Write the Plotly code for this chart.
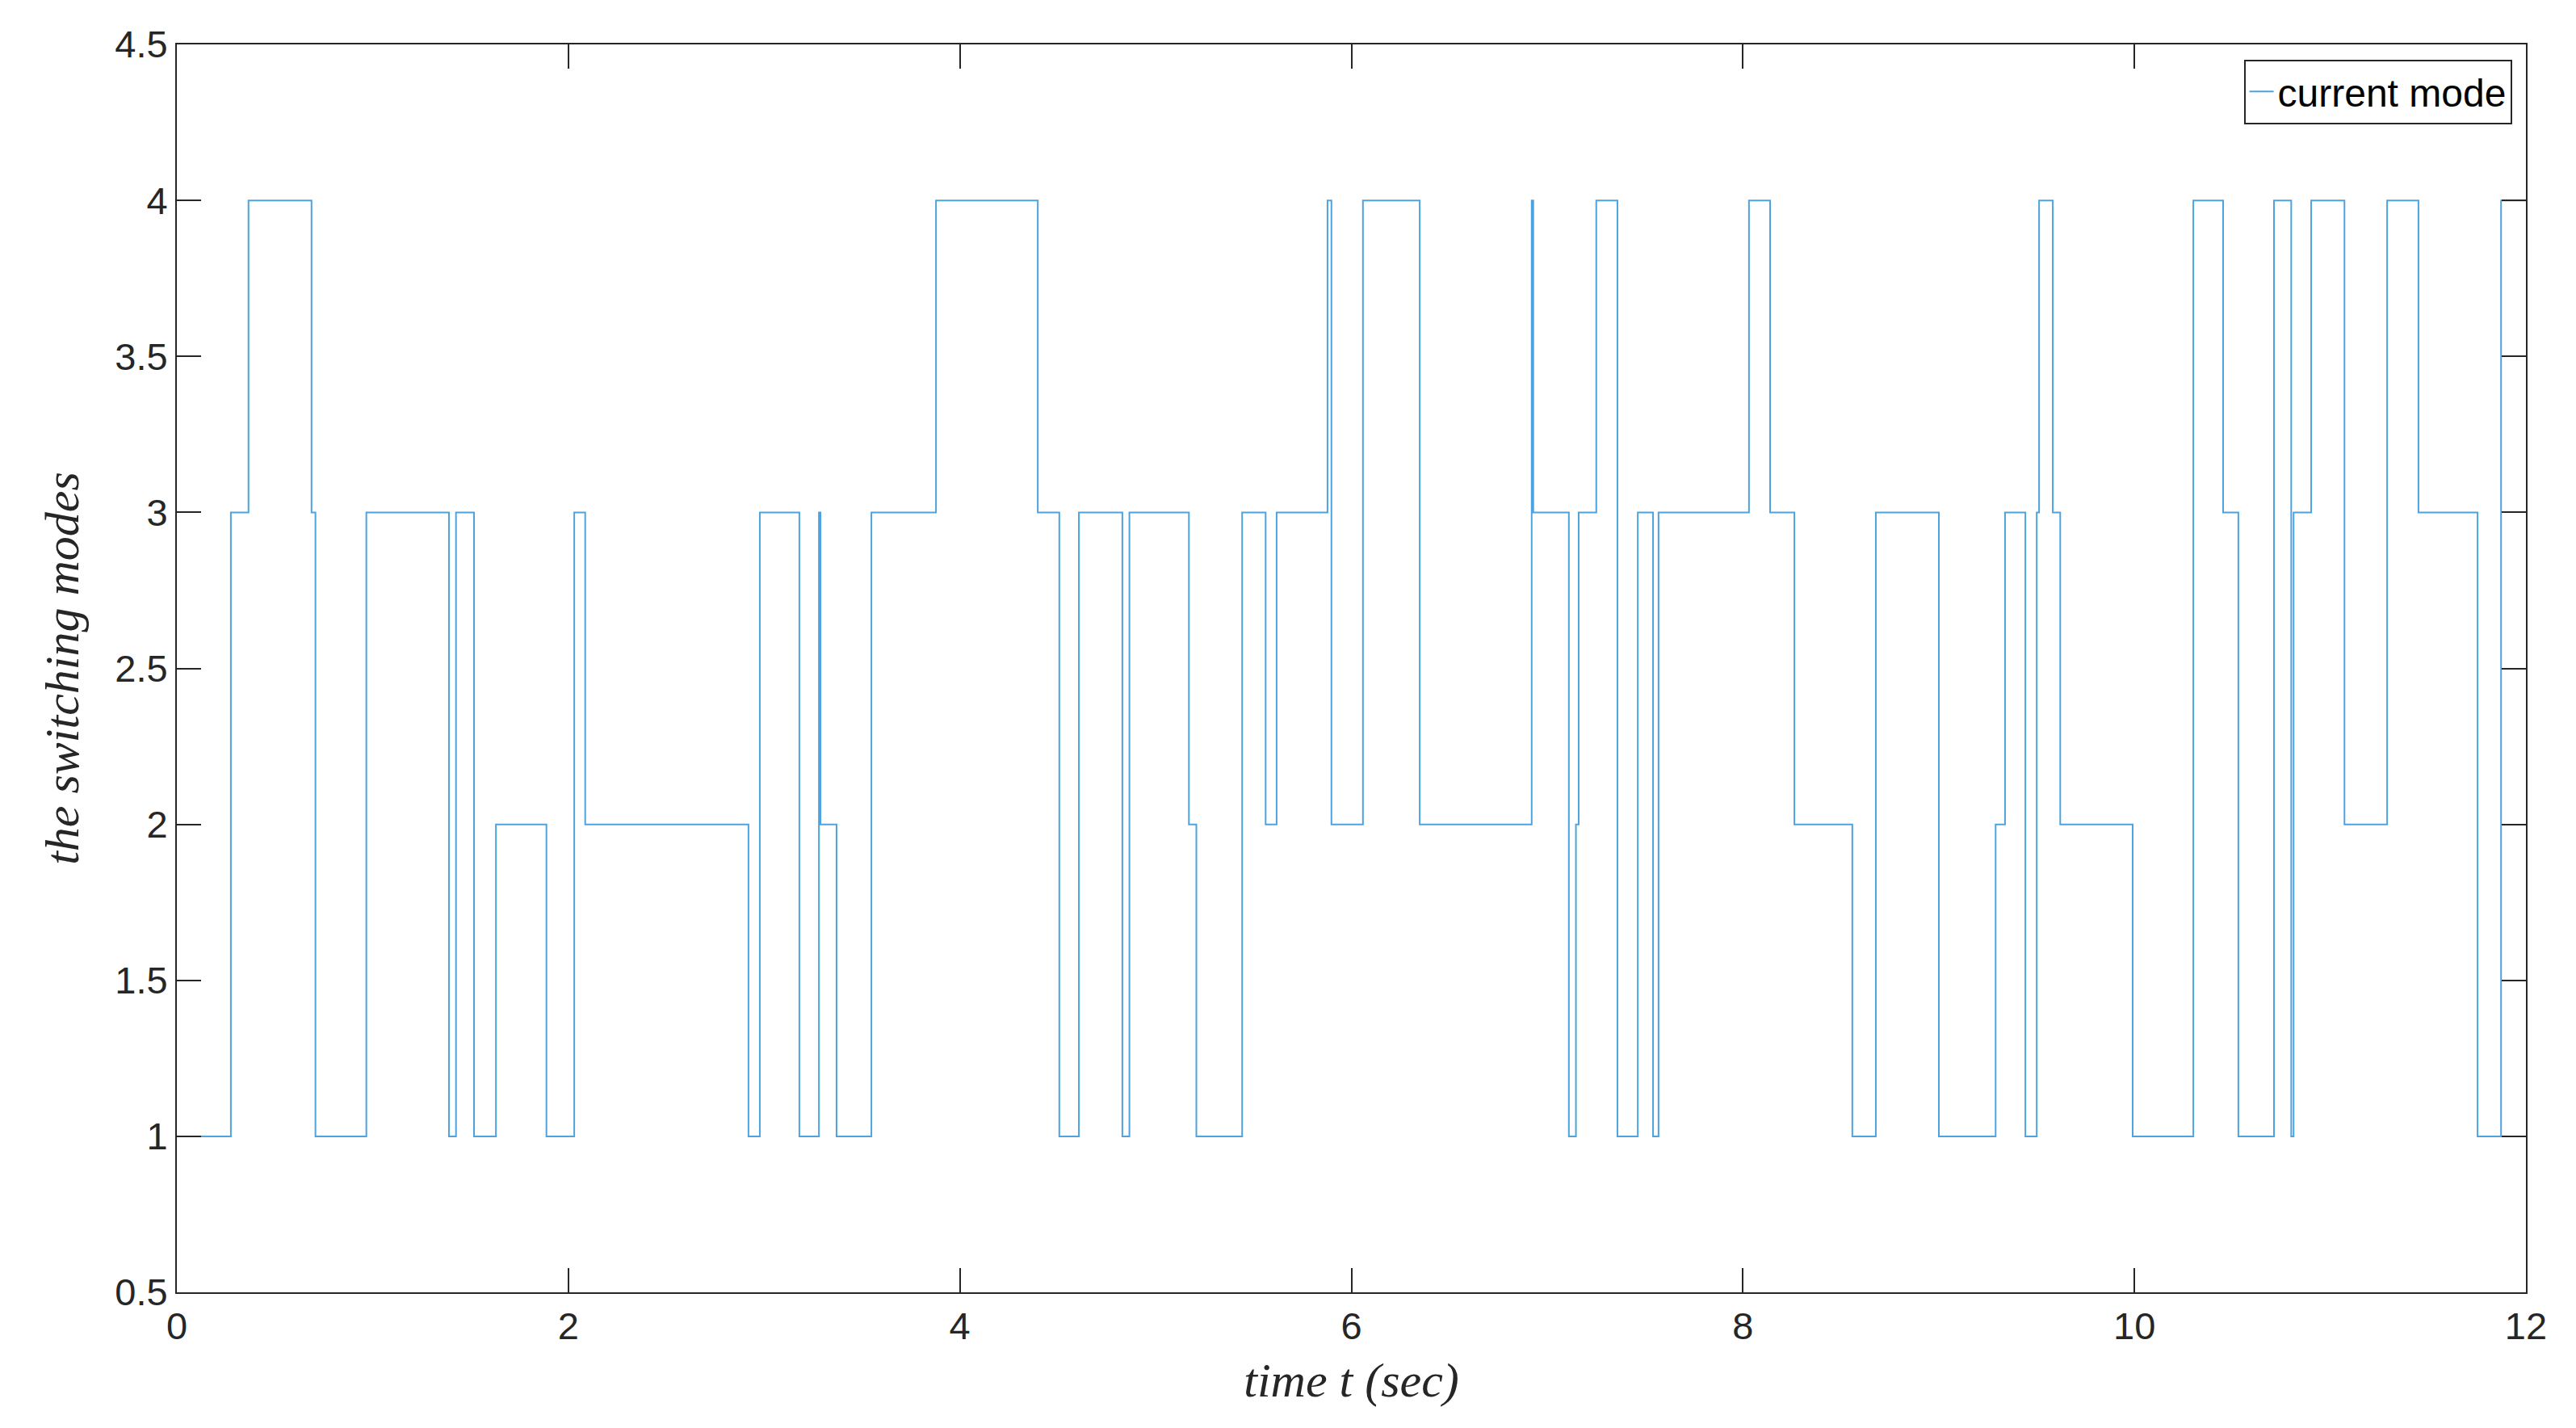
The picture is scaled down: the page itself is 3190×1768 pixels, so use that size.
import plotly.graph_objects as go

switch_times = [0, 0.276, 0.366, 0.688, 0.708, 0.968, 1.39, 1.426, 1.518, 1.63, 1.888, 2.03, 2.086,
                2.92, 2.978, 3.18, 3.28, 3.288, 3.37, 3.548, 3.878, 4.398, 4.508, 4.608, 4.83, 4.866,
                5.17, 5.208, 5.442, 5.562, 5.618, 5.878, 5.898, 6.059, 6.349, 6.921, 6.929, 7.111,
                7.147, 7.161, 7.251, 7.359, 7.463, 7.541, 7.569, 8.031, 8.139, 8.263, 8.559, 8.679,
                9.001, 9.291, 9.339, 9.443, 9.501, 9.513, 9.583, 9.621, 9.991, 10.301, 10.453,
                10.531, 10.713, 10.801, 10.813, 10.903, 11.073, 11.291, 11.451, 11.753, 11.873, 12.0]
modes = [1, 3, 4, 3, 1, 3, 1, 3, 1, 2, 1, 3, 2,
         1, 3, 1, 3, 2, 1, 3, 4, 3, 1, 3, 1, 3,
         2, 1, 3, 2, 3, 4, 2, 4, 2, 4, 3, 1,
         2, 3, 4, 1, 3, 1, 3, 4, 3, 2, 1, 3,
         1, 2, 3, 1, 3, 4, 3, 2, 1, 4, 3,
         1, 4, 1, 3, 4, 2, 4, 3, 1, 4, 4]

fig = go.Figure()
fig.add_trace(go.Scatter(x=switch_times, y=modes, mode="lines", line_shape="hv",
                         line=dict(color="#4DA3DF", width=2), name="current mode"))

axis_common = dict(showline=True, linecolor="#262626", linewidth=2, mirror="ticks",
                   ticks="inside", ticklen=30, tickwidth=2, tickcolor="#262626",
                   showgrid=False, zeroline=False,
                   tickfont=dict(family="Liberation Sans, Arial", size=47, color="#262626"))

fig.update_layout(
    width=3190, height=1768,
    paper_bgcolor="white", plot_bgcolor="white",
    margin=dict(l=211, r=70, t=47, b=176),
    xaxis=dict(range=[0, 12], tickmode="array", tickvals=[0, 2, 4, 6, 8, 10, 12],
               title=dict(text="<i>time t (sec)</i>", standoff=20,
                          font=dict(family="Liberation Serif, DejaVu Serif", size=60, color="#262626")),
               **axis_common),
    yaxis=dict(range=[0.5, 4.5], tickmode="array",
               tickvals=[0.5, 1, 1.5, 2, 2.5, 3, 3.5, 4, 4.5],
               ticktext=["0.5", "1", "1.5", "2", "2.5", "3", "3.5", "4", "4.5"],
               title=dict(text="<i>the switching modes</i>", standoff=25,
                          font=dict(family="Liberation Serif, DejaVu Serif", size=60, color="#262626")),
               **axis_common),
    showlegend=True,
    legend=dict(x=0.994, y=0.988, xanchor="right", yanchor="top",
                bgcolor="white", bordercolor="#262626", borderwidth=2,
                font=dict(family="Liberation Sans, Arial", size=48, color="black")),
)

fig.write_html("out.html")
